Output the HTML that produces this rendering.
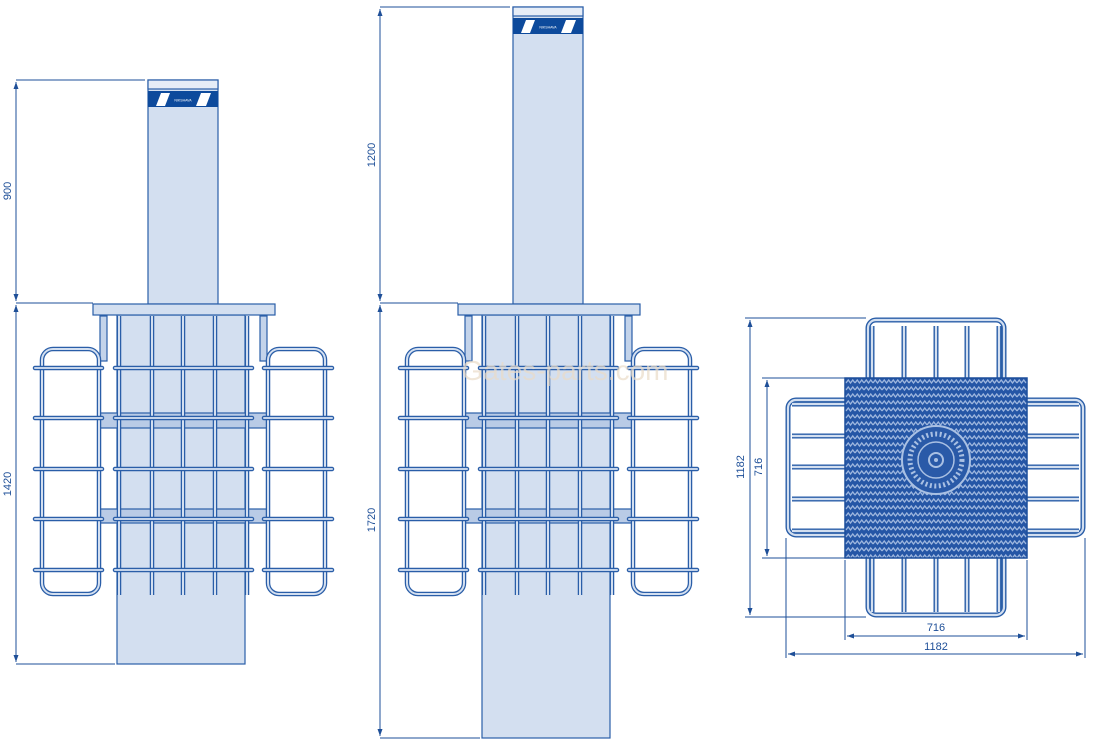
<!DOCTYPE html>
<html><head><meta charset="utf-8"><style>
html,body{margin:0;padding:0;background:#fff}
svg{display:block}
text{font-family:"Liberation Sans",sans-serif;fill:#1e4f98}
</style></head><body>
<svg width="1099" height="741" viewBox="0 0 1099 741" xmlns="http://www.w3.org/2000/svg">
<defs>
<pattern id="chev" width="9" height="7" patternUnits="userSpaceOnUse">
<rect width="9" height="7" fill="#2556a6"/>
<path d="M0 5 L2.25 2 L4.5 5 L6.75 2 L9 5" stroke="#9db6de" stroke-width="1.3" fill="none"/>
</pattern>
<marker id="ar" markerWidth="8" markerHeight="8" refX="7" refY="4" orient="auto" markerUnits="userSpaceOnUse">
<path d="M0 1.5 L7 4 L0 6.5Z" fill="#1e4f98"/></marker>
<marker id="al" markerWidth="8" markerHeight="8" refX="1" refY="4" orient="auto" markerUnits="userSpaceOnUse">
<path d="M8 1.5 L1 4 L8 6.5Z" fill="#1e4f98"/></marker>

<g id="cage" stroke="#2a5ea8" stroke-width="1.2">
  <rect x="93" y="304" width="182" height="11" fill="#d3dff0"/>
  <rect x="100" y="316" width="7" height="45" fill="#c3d3ea"/>
  <rect x="260" y="316" width="7" height="45" fill="#c3d3ea"/>
  <rect x="100" y="413" width="168" height="15" fill="#b9cbe6"/>
  <rect x="100" y="509" width="168" height="14" fill="#b9cbe6"/>
  <g fill="none" stroke="#2a5ea8" stroke-width="4.5">
    <rect x="42" y="349" width="57" height="245" rx="11"/>
    <rect x="268" y="349" width="57" height="245" rx="11"/>
    <path d="M119 316V595 M152 316V595 M183 316V595 M215 316V595 M247 316V595"/>
  </g>
  <g fill="none" stroke="#d3dff0" stroke-width="2">
    <rect x="42" y="349" width="57" height="245" rx="11"/>
    <rect x="268" y="349" width="57" height="245" rx="11"/>
    <path d="M119 316V595 M152 316V595 M183 316V595 M215 316V595 M247 316V595"/>
  </g>
  <g stroke-linecap="round">
    <g stroke="#2a5ea8" stroke-width="4.5">
      <path d="M35 368H102 M115 368H252 M264 368H332 M35 418H102 M115 418H252 M264 418H332 M35 469H102 M115 469H252 M264 469H332 M35 519H102 M115 519H252 M264 519H332 M35 570H102 M115 570H252 M264 570H332"/>
    </g>
    <g stroke="#c3d3ea" stroke-width="2">
      <path d="M35 368H102 M115 368H252 M264 368H332 M35 418H102 M115 418H252 M264 418H332 M35 469H102 M115 469H252 M264 469H332 M35 519H102 M115 519H252 M264 519H332 M35 570H102 M115 570H252 M264 570H332"/>
    </g>
  </g>
</g>
</defs>

<!-- left bollard -->
<g stroke="#2a5ea8" stroke-width="1.2">
  <rect x="117" y="315" width="128" height="349" fill="#d3dff0"/>
  <rect x="148" y="80" width="70" height="224" fill="#d3dff0"/>
  <rect x="148" y="80" width="70" height="9" fill="#e6edf7"/>
  <rect x="148" y="91" width="70" height="16" fill="#0d4a9c" stroke="none"/>
  <path d="M156 106 L161 93 L170 93 L165 106Z M196 106 L201 93 L211 93 L206 106Z" fill="#fff" stroke="none"/>
</g>
<text x="183" y="101.5" font-size="3.5" text-anchor="middle" style="fill:#fff">NIKSHAVA</text>
<use href="#cage"/>

<!-- middle bollard -->
<g transform="translate(365,0)" stroke="#2a5ea8" stroke-width="1.2">
  <rect x="117" y="315" width="128" height="423" fill="#d3dff0"/>
  <rect x="148" y="7" width="70" height="297" fill="#d3dff0"/>
  <rect x="148" y="7" width="70" height="9" fill="#e6edf7"/>
  <rect x="148" y="18" width="70" height="16" fill="#0d4a9c" stroke="none"/>
  <path d="M156 33 L161 20 L170 20 L165 33Z M196 33 L201 20 L211 20 L206 33Z" fill="#fff" stroke="none"/>
</g>
<text x="548" y="28.5" font-size="3.5" text-anchor="middle" style="fill:#fff">NIKSHAVA</text>
<g transform="translate(365,0)"><use href="#cage"/></g>
<text x="565" y="380" font-size="28" text-anchor="middle" style="fill:#eadcc8;opacity:0.7">Gates-parts.com</text>

<!-- dims -->
<g stroke="#1e4f98" stroke-width="1" fill="none">
  <path d="M16 80H145 M16 303H93 M16 664H115"/>
  <path d="M16 82V301" marker-start="url(#al)" marker-end="url(#ar)"/>
  <path d="M16 305V662" marker-start="url(#al)" marker-end="url(#ar)"/>
  <path d="M380 7H510 M380 303H458 M380 738H480"/>
  <path d="M380 9V301" marker-start="url(#al)" marker-end="url(#ar)"/>
  <path d="M380 305V736" marker-start="url(#al)" marker-end="url(#ar)"/>
</g>
<text transform="translate(11,191) rotate(-90)" font-size="11" text-anchor="middle">900</text>
<text transform="translate(11,484) rotate(-90)" font-size="11" text-anchor="middle">1420</text>
<text transform="translate(375,155) rotate(-90)" font-size="11" text-anchor="middle">1200</text>
<text transform="translate(375,520) rotate(-90)" font-size="11" text-anchor="middle">1720</text>

<!-- plan view -->
<g fill="none" stroke="#2a5ea8" stroke-width="5">
  <rect x="868" y="320" width="136" height="295" rx="8"/>
  <rect x="788" y="400" width="295" height="135" rx="8"/>
  <path d="M872 326V612 M904 326V612 M936 326V612 M967 326V612 M999 326V612"/>
  <path d="M792 404H1079 M792 436H1079 M792 467H1079 M792 499H1079 M792 531H1079"/>
</g>
<g fill="none" stroke="#d3dff0" stroke-width="2.2">
  <rect x="868" y="320" width="136" height="295" rx="8"/>
  <rect x="788" y="400" width="295" height="135" rx="8"/>
  <path d="M872 326V612 M904 326V612 M936 326V612 M967 326V612 M999 326V612"/>
  <path d="M792 404H1079 M792 436H1079 M792 467H1079 M792 499H1079 M792 531H1079"/>
</g>
<rect x="845" y="378" width="182" height="180" fill="url(#chev)" stroke="#1d4f9c" stroke-width="1.5"/>
<circle cx="936" cy="460" r="34" fill="#2a5aa8" stroke="#a9c0e3" stroke-width="2"/>
<circle cx="936" cy="460" r="26" fill="none" stroke="#a9c0e3" stroke-width="5" stroke-dasharray="2 2.5"/>
<circle cx="936" cy="460" r="18" fill="#2a5aa8" stroke="#a9c0e3" stroke-width="1.5"/>
<circle cx="936" cy="460" r="7" fill="none" stroke="#a9c0e3" stroke-width="2"/>
<circle cx="936" cy="460" r="2" fill="#a9c0e3"/>

<g stroke="#1e4f98" stroke-width="1" fill="none">
  <path d="M745 318H866 M745 617H866 M762 378H845 M762 558H845"/>
  <path d="M750 320V615" marker-start="url(#al)" marker-end="url(#ar)"/>
  <path d="M767 380V556" marker-start="url(#al)" marker-end="url(#ar)"/>
  <path d="M845 560V640 M1027 560V640 M786 538V658 M1085 538V658"/>
  <path d="M847 636H1025" marker-start="url(#al)" marker-end="url(#ar)"/>
  <path d="M788 654H1083" marker-start="url(#al)" marker-end="url(#ar)"/>
</g>
<text transform="translate(744,467) rotate(-90)" font-size="11" text-anchor="middle">1182</text>
<text transform="translate(762,467) rotate(-90)" font-size="11" text-anchor="middle">716</text>
<text x="936" y="631" font-size="11" text-anchor="middle">716</text>
<text x="936" y="650" font-size="11" text-anchor="middle">1182</text>
</svg>
</body></html>
